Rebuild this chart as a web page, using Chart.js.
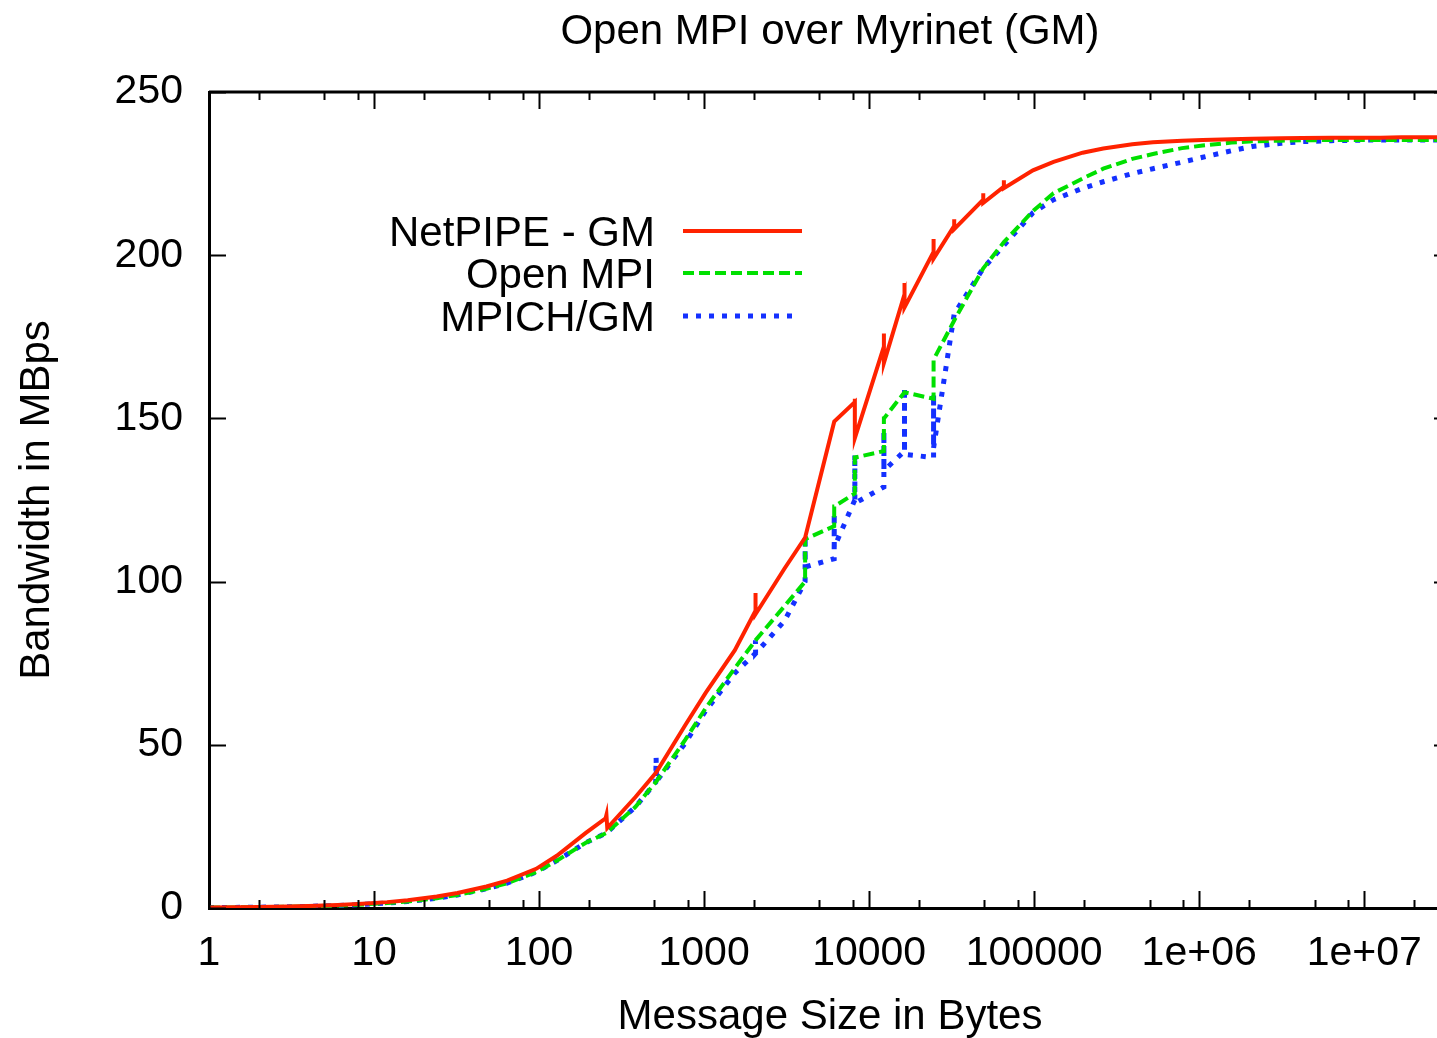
<!DOCTYPE html>
<html>
<head>
<meta charset="utf-8">
<script src="https://cdn.jsdelivr.net/npm/chart.js@4.4.1/dist/chart.umd.min.js"></script>
<style>
  html, body { margin: 0; padding: 0; background: #fff; overflow: hidden; }
  #wrap { width: 1520px; height: 1038px; }
</style>
</head>
<body>
<div id="wrap"><canvas id="c" width="1520" height="1038"></canvas></div>
<script>
// ---- data ----
const chartTitle = 'Open MPI over Myrinet (GM)';
const xAxisTitle = 'Message Size in Bytes';
const yAxisTitle = 'Bandwidth in MBps';
const seriesNames = ['NetPIPE - GM', 'Open MPI', 'MPICH/GM'];

const xTickValues = [1, 10, 100, 1000, 10000, 100000, 1000000, 10000000];
const xTickLabels = ['1', '10', '100', '1000', '10000', '100000', '1e+06', '1e+07'];
const yTickValues = [0, 50, 100, 150, 200, 250];

const netpipeSizes = [1,2,3,4,6,8,12,16,24,32,48,64,96,128,192,253,256,259,384,512,768,1024,1536,2045,2048,2051,3072,4096,6144,8189,8192,8195,12285,12288,12291,16381,16384,16387,24573,24576,24579,32765,32768,32771,49149,49152,49155,65533,65536,65539,98304,131072,196608,262144,393216,524288,786432,1048576,1572864,2097152,3145728,4194304,6291456,8388608,12582912,16777216,25165824,33554432];
const netpipeBW = [0.15,0.3,0.45,0.6,0.9,1.2,1.8,2.4,3.5,4.6,6.6,8.4,12,16,23,27.5,28.5,24.5,34,41.5,56,66,79,91,96.5,90,104,113.5,149,155,156,144,172,176,167,188,191.5,184,201,205,199,209,211,208,217,219,216,221,223,220.5,226,228.6,231.4,232.7,234,234.6,235.1,235.3,235.5,235.7,235.8,235.9,236,236,236,236.1,236.1,236.1];

const openmpiSizes = [1,2,3,4,6,8,12,16,24,32,48,64,96,128,192,256,384,512,768,1024,1536,2048,3072,4093,4096,4099,6141,6144,6147,8189,8192,8195,12285,12288,12291,16384,24573,24576,24579,32768,49152,65536,98304,131072,196608,262144,393216,524288,786432,1048576,1572864,2097152,3145728,4194304,6291456,8388608,12582912,16777216,25165824,33554432];
const openmpiBW = [0.12,0.25,0.37,0.5,0.75,1.0,1.5,2.0,3.0,4.0,5.9,7.6,11,14.5,20,23,31,38.7,51.5,61.3,73.5,82,92.5,100,113,113,117,123,123,127,138,138,140,150,150,158,156,166,168,180,196,204,213.5,219,223.5,226.5,229.5,231,232.8,233.6,234.5,234.9,235.1,235.2,235.3,235.3,235.3,235.3,235.3,235.3];

const mpichSizes = [1,2,3,4,6,8,12,16,24,32,48,64,96,128,192,256,384,509,512,515,768,1024,1536,2045,2048,2051,3072,4093,4096,4099,6141,6144,6147,8189,8192,8195,12285,12288,12291,16381,16384,16387,24573,24576,24579,32768,49152,65536,98304,131072,196608,262144,393216,524288,786432,1048576,1572864,2097152,3145728,4194304,6291456,8388608,12582912,16777216,25165824,33554432];
const mpichBW = [0.12,0.25,0.37,0.5,0.75,1.0,1.5,2.0,3.0,4.0,5.9,7.6,11,14.5,20,23,31,38.5,46,38.8,50.5,60.5,72,78,82,78,88,100,114,104.5,107,121,110.5,125,139,124,129,146,134,140,159.5,139,138,157.5,141,182,196,203,213,217,220.5,222.5,225,226.5,228.5,230,232,233.3,234.3,234.8,235.1,235.2,235.3,235.3,235.3,235.3];

// ---- build ----
const FONT = '"Liberation Sans", Arial, Helvetica, sans-serif';
const toPts = (xs, ys) => xs.map((v, i) => ({ x: v, y: ys[i] }));

const axisMarks = {
  id: 'axisMarks',
  afterDraw(chart) {
    const { ctx, chartArea: a, scales: { x, y } } = chart;
    ctx.save();
    ctx.strokeStyle = '#000';
    ctx.lineWidth = 3;
    ctx.beginPath();
    ctx.moveTo(a.left, a.top); ctx.lineTo(a.right, a.top); ctx.lineTo(a.right, a.bottom);
    ctx.stroke();
    ctx.lineWidth = 2;
    const vtick = (v, len) => {
      const px = Math.round(x.getPixelForValue(v)) + 0.5;
      ctx.beginPath();
      ctx.moveTo(px, a.bottom); ctx.lineTo(px, a.bottom - len);
      ctx.moveTo(px, a.top); ctx.lineTo(px, a.top + len);
      ctx.stroke();
    };
    xTickValues.forEach(d => {
      vtick(d, 17);
      [2, 5, 8].forEach(m => { if (d * m <= x.max) vtick(d * m, 8); });
    });
    yTickValues.forEach(v => {
      const py = Math.round(y.getPixelForValue(v)) + 0.5;
      ctx.beginPath();
      ctx.moveTo(a.left, py); ctx.lineTo(a.left + 17, py);
      ctx.moveTo(a.right, py); ctx.lineTo(a.right - 17, py);
      ctx.stroke();
    });
    // legend (text right-aligned, sample line on the right)
    const rows = [231, 273, 316];
    ctx.font = '42px ' + FONT;
    ctx.textAlign = 'right';
    ctx.textBaseline = 'alphabetic';
    ctx.fillStyle = '#000';
    chart.data.datasets.forEach((ds, i) => {
      ctx.fillText(ds.label, 655, rows[i] + 15);
      ctx.save();
      ctx.strokeStyle = ds.borderColor;
      ctx.lineWidth = ds.borderWidth;
      ctx.setLineDash(ds.borderDash || []);
      ctx.beginPath();
      ctx.moveTo(683, rows[i]); ctx.lineTo(i === 2 ? 800 : 802, rows[i]);
      ctx.stroke();
      ctx.restore();
    });
    ctx.restore();
  }
};

new Chart(document.getElementById('c'), {
  type: 'line',
  data: {
    datasets: [
      { label: seriesNames[0], data: toPts(netpipeSizes, netpipeBW), borderColor: '#ff2200', borderWidth: 4, pointRadius: 0, tension: 0, fill: false },
      { label: seriesNames[1], data: toPts(openmpiSizes, openmpiBW), borderColor: '#00e000', borderWidth: 4, borderDash: [11, 5], pointRadius: 0, tension: 0, fill: false },
      { label: seriesNames[2], data: toPts(mpichSizes, mpichBW), borderColor: '#1430ff', borderWidth: 5, borderDash: [5, 8], pointRadius: 0, tension: 0, fill: false }
    ]
  },
  options: {
    responsive: false,
    animation: false,
    events: [],
    layout: { padding: { left: 0, right: 69, top: 0, bottom: 0 } },
    plugins: {
      legend: { display: false },
      tooltip: { enabled: false },
      title: {
        display: true, text: chartTitle, color: '#000', fullSize: false,
        font: { family: FONT, size: 42, weight: 'normal', lineHeight: 1.2 },
        padding: { top: 7, bottom: 34.6 }
      }
    },
    scales: {
      x: {
        type: 'logarithmic', min: 1, max: 33554432,
        grid: { display: false, drawTicks: false },
        border: { display: true, color: '#000', width: 3 },
        afterBuildTicks: s => { s.ticks = xTickValues.map(v => ({ value: v })); },
        afterFit: s => { s.height = 130; },
        ticks: {
          autoSkip: false, maxRotation: 0, padding: 21, color: '#000',
          font: { family: FONT, size: 41 },
          callback: (v) => { const i = xTickValues.indexOf(v); return i >= 0 ? xTickLabels[i] : ''; }
        },
        title: {
          display: true, text: xAxisTitle, color: '#000',
          font: { family: FONT, size: 42, lineHeight: 1.0 },
          padding: { top: 0, bottom: 0 }
        }
      },
      y: {
        type: 'linear', min: 0, max: 250,
        grid: { display: false, drawTicks: false },
        border: { display: true, color: '#000', width: 3 },
        afterBuildTicks: s => { s.ticks = yTickValues.map(v => ({ value: v })); },
        afterFit: s => { s.width = 209; },
        ticks: { padding: 26, color: '#000', font: { family: FONT, size: 41 } },
        title: {
          display: true, text: yAxisTitle, color: '#000',
          font: { family: FONT, size: 42, lineHeight: 1.2 },
          padding: { top: 12, bottom: 0 }
        }
      }
    }
  },
  plugins: [axisMarks]
});
</script>
</body>
</html>
